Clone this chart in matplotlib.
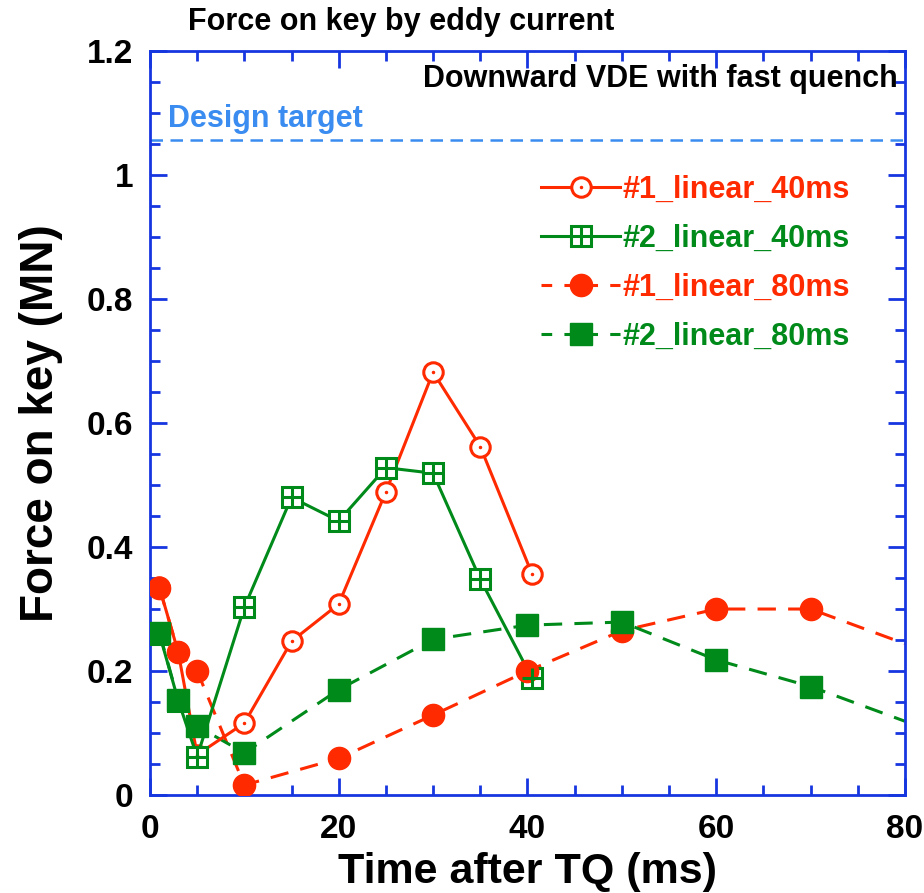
import matplotlib.pyplot as plt
from matplotlib.ticker import MultipleLocator
from matplotlib.lines import Line2D

# ── data ──────────────────────────────────────────────────
t_40 = [1, 3, 5, 10, 15, 20, 25, 30, 35, 40.5]
f1_40 = [0.335, 0.23, 0.065, 0.116, 0.248, 0.308, 0.489, 0.682, 0.562, 0.356]
f2_40 = [0.26, 0.152, 0.062, 0.303, 0.48, 0.442, 0.528, 0.519, 0.348, 0.188]

t_80 = [1, 3, 5, 10, 20, 30, 40, 50, 60, 70, 80]
f1_80 = [0.334, 0.231, 0.2, 0.016, 0.059, 0.129, 0.2, 0.265, 0.3, 0.3, 0.244]
f2_80 = [0.262, 0.153, 0.111, 0.068, 0.17, 0.251, 0.274, 0.279, 0.218, 0.175, 0.119]
# last 80 ms value is where the curve leaves the frame (no marker there)

labels = ["#1_linear_40ms", "#2_linear_40ms", "#1_linear_80ms", "#2_linear_80ms"]
design_target = 1.056

RED = "#ff2a00"
GREEN = "#008a1a"
AXBLUE = "#1636e0"
TARGET = "#3a8cf0"

plt.rcParams["font.family"] = ["Liberation Sans", "DejaVu Sans"]
plt.rcParams["font.weight"] = "bold"

fig = plt.figure(figsize=(9.24, 8.93), dpi=100)
ax = fig.add_axes([0.1623, 0.1097, 0.8171, 0.8332])

lw = 2.2
# ── 40 ms curves (solid, open markers) ────────────────────
l1, = ax.plot(t_40, f1_40, "-", color=RED, lw=lw, marker="o", ms=14,
              mfc="white", mec=RED, mew=2.2, zorder=3)
d1, = ax.plot(t_40, f1_40, ".", color=RED, ms=3, zorder=4)
l2, = ax.plot(t_40, f2_40, "-", color=GREEN, lw=lw, marker="s", ms=14,
              mfc="white", mec=GREEN, mew=2.2, zorder=3)
p2, = ax.plot(t_40, f2_40, "+", color=GREEN, ms=14, mew=2.2, zorder=4)

# ── 80 ms curves (dashed, filled markers) ─────────────────
ax.plot(t_80, f1_80, "--", color=RED, lw=lw, dashes=(6, 4), zorder=2)
ax.plot(t_80[:-1], f1_80[:-1], "o", color=RED, ms=16, zorder=3)
ax.plot(t_80, f2_80, "--", color=GREEN, lw=lw, dashes=(6, 4), zorder=2)
ax.plot(t_80[:-1], f2_80[:-1], "s", color=GREEN, ms=16, zorder=3)

h3 = Line2D([], [], color=RED, lw=lw, ls="--", dashes=(3.5, 4), marker="o", ms=16)
h4 = Line2D([], [], color=GREEN, lw=lw, ls="--", dashes=(3.5, 4), marker="s", ms=16)

# ── design target ─────────────────────────────────────────
ax.axhline(design_target, color=TARGET, lw=1.8, ls="--", dashes=(5, 3))
ax.text(1.9, design_target + 0.035, "Design target", color=TARGET,
        fontsize=22, fontweight="bold", va="center")
ax.text(79.2, 1.155, "Downward VDE with fast quench", color="black",
        fontsize=22, fontweight="bold", ha="right", va="center")

leg = ax.legend([(l1, d1), (l2, p2), h3, h4], labels, loc="upper left",
                bbox_to_anchor=(0.518, 0.834), frameon=False, fontsize=22,
                handlelength=2.6, handletextpad=0.05, labelspacing=0.62,
                numpoints=1, borderaxespad=0, borderpad=0)
for txt, c in zip(leg.get_texts(), [RED, GREEN, RED, GREEN]):
    txt.set_color(c)
    txt.set_fontweight("bold")

# ── axes styling ──────────────────────────────────────────
ax.set_xlim(0, 80)
ax.set_ylim(0, 1.2)
ax.xaxis.set_major_locator(MultipleLocator(20))
ax.xaxis.set_minor_locator(MultipleLocator(5))
ax.yaxis.set_major_locator(MultipleLocator(0.2))
ax.yaxis.set_minor_locator(MultipleLocator(0.05))
ax.set_yticks([0, 0.2, 0.4, 0.6, 0.8, 1, 1.2])
ax.set_yticklabels(["0", "0.2", "0.4", "0.6", "0.8", "1", "1.2"])
for s in ax.spines.values():
    s.set_color(AXBLUE)
    s.set_linewidth(2)
ax.tick_params(which="both", direction="in", top=True, right=True,
               color=AXBLUE, labelsize=24, width=2)
ax.tick_params(axis="x", pad=14)
ax.tick_params(axis="y", pad=12)
ax.tick_params(which="major", length=12)
ax.tick_params(which="minor", length=7)
for lab in ax.get_xticklabels() + ax.get_yticklabels():
    lab.set_fontweight("bold")

ax.set_xlabel("Time after TQ (ms)", fontsize=31, fontweight="bold", labelpad=5)
ax.set_ylabel("Force on key (MN)", fontsize=33, fontweight="bold", labelpad=17)

fig.text(0.203, 0.975, "Force on key by eddy current", fontsize=22,
         fontweight="bold", va="center")

fig.savefig("out.png", dpi=100)
